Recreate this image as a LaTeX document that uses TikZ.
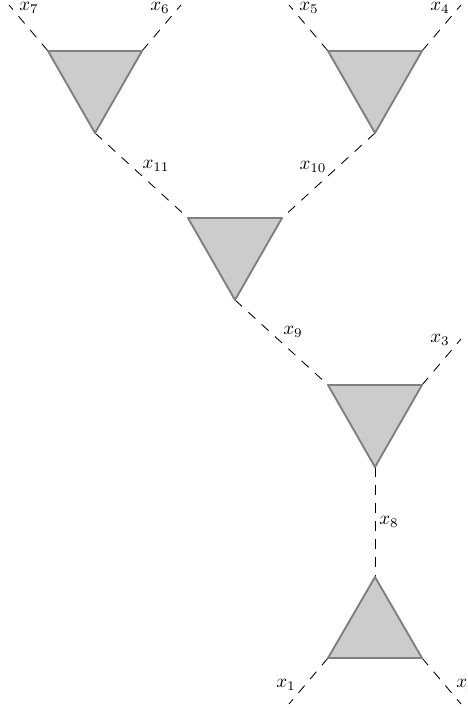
\documentclass[tikz,border=0pt]{standalone}
\begin{document}
\begin{tikzpicture}[x=0.5265pt,y=-0.5265pt,
  leg/.style={draw=black,line width=0.45pt,dash pattern=on 5pt off 4.5pt},
  blob/.style={draw=black!50,fill=black!20,line width=1pt,line join=round},
  lbl/.style={inner sep=0pt}]
\useasboundingbox (0,0) rectangle (467,708);
% triangle corners
\coordinate (a1) at (48,51);  \coordinate (b1) at (142,51);  \coordinate (c1) at (95,133);
\coordinate (a2) at (328,51); \coordinate (b2) at (422,51);  \coordinate (c2) at (375,133);
\coordinate (a3) at (188,218);\coordinate (b3) at (282,218); \coordinate (c3) at (235,300);
\coordinate (a4) at (328,385);\coordinate (b4) at (422,385); \coordinate (c4) at (375,467);
\coordinate (c5) at (375,577);\coordinate (a5) at (328,658); \coordinate (b5) at (422,658);
% outer ends
\coordinate (e7) at (9,5);
\coordinate (e6) at (181,5);
\coordinate (e5) at (289,5);
\coordinate (e4) at (461,5);
\coordinate (e3) at (461,339);
\coordinate (e1) at (289,704);
\coordinate (e2) at (461,704);
% legs
\draw[leg] (a1) -- (e7);
\draw[leg] (b1) -- (e6);
\draw[leg] (a2) -- (e5);
\draw[leg] (b2) -- (e4);
\draw[leg] (c1) -- (a3);
\draw[leg] (c2) -- (b3);
\draw[leg] (c3) -- (a4);
\draw[leg] (b4) -- (e3);
\draw[leg] (c4) -- (c5);
\draw[leg] (a5) -- (e1);
\draw[leg] (b5) -- (e2);
% blobs
\draw[blob] (a1) -- (b1) -- (c1) -- cycle;
\draw[blob] (a2) -- (b2) -- (c2) -- cycle;
\draw[blob] (a3) -- (b3) -- (c3) -- cycle;
\draw[blob] (a4) -- (b4) -- (c4) -- cycle;
\draw[blob] (c5) -- (a5) -- (b5) -- cycle;
% labels
\node[lbl] (l7) at (29,8) {$x_7$};
\node[lbl] (l6) at (160,8) {$x_6$};
\node[lbl] (l5) at (309,8) {$x_5$};
\node[lbl] (l4) at (440,8) {$x_4$};
\node[lbl] (l11) at (156,166) {$x_{11}$};
\node[lbl] (l10) at (313,167) {$x_{10}$};
\node[lbl] (l9) at (293,332) {$x_9$};
\node[lbl] (l3) at (440,340) {$x_3$};
\node[lbl] (l8) at (389,522) {$x_8$};
\node[lbl] (l1) at (286,685) {$x_1$};
\node[lbl,anchor=west] (l2) at (456,685) {$x_2$};
\end{tikzpicture}
\end{document}
